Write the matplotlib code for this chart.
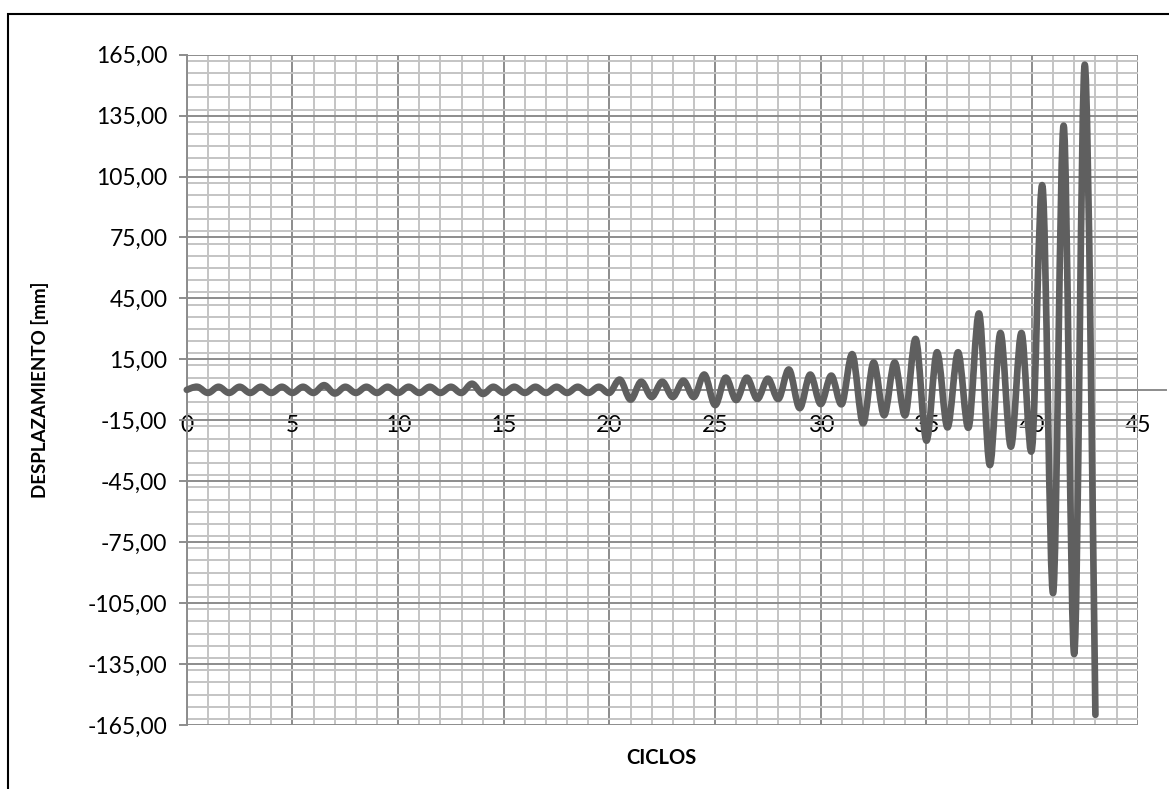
import numpy as np
import matplotlib
matplotlib.use('Agg')
import matplotlib.pyplot as plt
from matplotlib.ticker import MultipleLocator, FuncFormatter
from matplotlib.patches import Rectangle, PathPatch
from matplotlib.path import Path

plt.rcParams['font.family'] = ['Lato', 'DejaVu Sans']

# peak of each cycle (at k + 0.5) and trough (at k + 1)
peaks = [1.5, 1.5, 1.5, 1.5, 1.5, 1.5, 2.3, 1.5, 1.5, 1.5,
         1.5, 1.5, 1.5, 3.0, 1.5, 1.5, 1.5, 1.5, 1.5, 1.5,
         5.0, 4.0, 4.0, 4.5, 7.5, 6.0, 6.0, 5.5, 10.0, 7.5,
         7.0, 17.5, 13.5, 13.5, 25.0, 18.5, 18.5, 37.5, 28.0, 28.0,
         100.0, 130.0, 160.0]
troughs = [-1.5, -1.5, -1.5, -1.5, -1.5, -1.5, -1.8, -1.5, -1.5, -1.5,
           -1.5, -1.5, -1.5, -2.0, -1.5, -1.5, -1.5, -1.5, -1.5, -1.5,
           -4.8, -3.5, -3.5, -3.5, -7.5, -5.0, -4.5, -4.5, -9.0, -7.0,
           -7.0, -16.5, -12.5, -12.5, -25.0, -18.5, -18.5, -37.0, -28.0, -29.0,
           -100.0, -130.0, -160.0]

desplaz = [0.0]
for p, t in zip(peaks, troughs):
    desplaz += [p, t]
ciclos = np.arange(len(desplaz)) * 0.5


def smooth_path(xs, ys):
    # Excel-style smoothed line: cubic bezier through every point
    pts = np.column_stack([xs, ys])
    n = len(pts)
    verts = [pts[0]]
    codes = [Path.MOVETO]
    for i in range(n - 1):
        p0 = pts[max(i - 1, 0)]
        p1 = pts[i]
        p2 = pts[i + 1]
        p3 = pts[min(i + 2, n - 1)]
        c1 = p1 + (p2 - p0) / 6.0
        c2 = p2 - (p3 - p1) / 6.0
        verts += [c1, c2, p2]
        codes += [Path.CURVE4] * 3
    return Path(verts, codes)


fig = plt.figure(figsize=(11.69, 7.89), dpi=100)
ax = fig.add_axes([0.1598, 0.0811, 0.9732 - 0.1598, 0.9307 - 0.0811])

# chart area border
fig.patches.append(Rectangle((8 / 1169, -0.05), 1.1, 1 - 14 / 789 + 0.05,
                             transform=fig.transFigure, fill=False,
                             edgecolor='black', linewidth=1.5, zorder=0))

ax.set_xlim(0, 45)
ax.set_ylim(-165, 165)
ax.xaxis.set_major_locator(MultipleLocator(5))
ax.xaxis.set_minor_locator(MultipleLocator(1))
ax.set_yticks(np.arange(-165, 166, 30))
ax.yaxis.set_minor_locator(MultipleLocator(6))
ax.yaxis.set_major_formatter(FuncFormatter(lambda v, pos: f"{v:.2f}".replace('.', ',')))

ax.grid(which='minor', color='#c4c4c4', linewidth=1.4, zorder=0)
ax.grid(which='major', color='#8c8c8c', linewidth=1.4, zorder=0)
ax.set_axisbelow(True)

for s in ['top', 'right']:
    ax.spines[s].set_visible(False)
ax.spines['left'].set_color('#8c8c8c')
ax.spines['left'].set_linewidth(1.4)
ax.spines['bottom'].set_position(('data', 0))
ax.spines['bottom'].set_color('#8c8c8c')
ax.spines['bottom'].set_linewidth(1.4)
ax.axhline(0, xmin=0, xmax=1.03, color='#8c8c8c', linewidth=1.4, clip_on=False)

ax.tick_params(axis='y', which='major', length=6, color='#8c8c8c', width=1.4,
               labelsize=16.5, pad=8)
ax.tick_params(axis='x', which='major', length=0, labelsize=16.5, pad=18)
ax.tick_params(which='minor', length=0)

line = PathPatch(smooth_path(ciclos, desplaz), facecolor='none', edgecolor='#5f5f5f',
                 linewidth=4.8, joinstyle='round', capstyle='round', zorder=3,
                 clip_on=False)
ax.add_patch(line)

fig.text(661 / 1169, 1 - 758 / 789, 'CICLOS', ha='center', va='center',
         fontsize=14.5, fontweight='bold')
fig.text(40 / 1169, 1 - 390 / 789, 'DESPLAZAMIENTO [mm]', ha='center', va='center',
         rotation=90, fontsize=13.5, fontweight='bold')

fig.savefig('out.png', dpi=100)
